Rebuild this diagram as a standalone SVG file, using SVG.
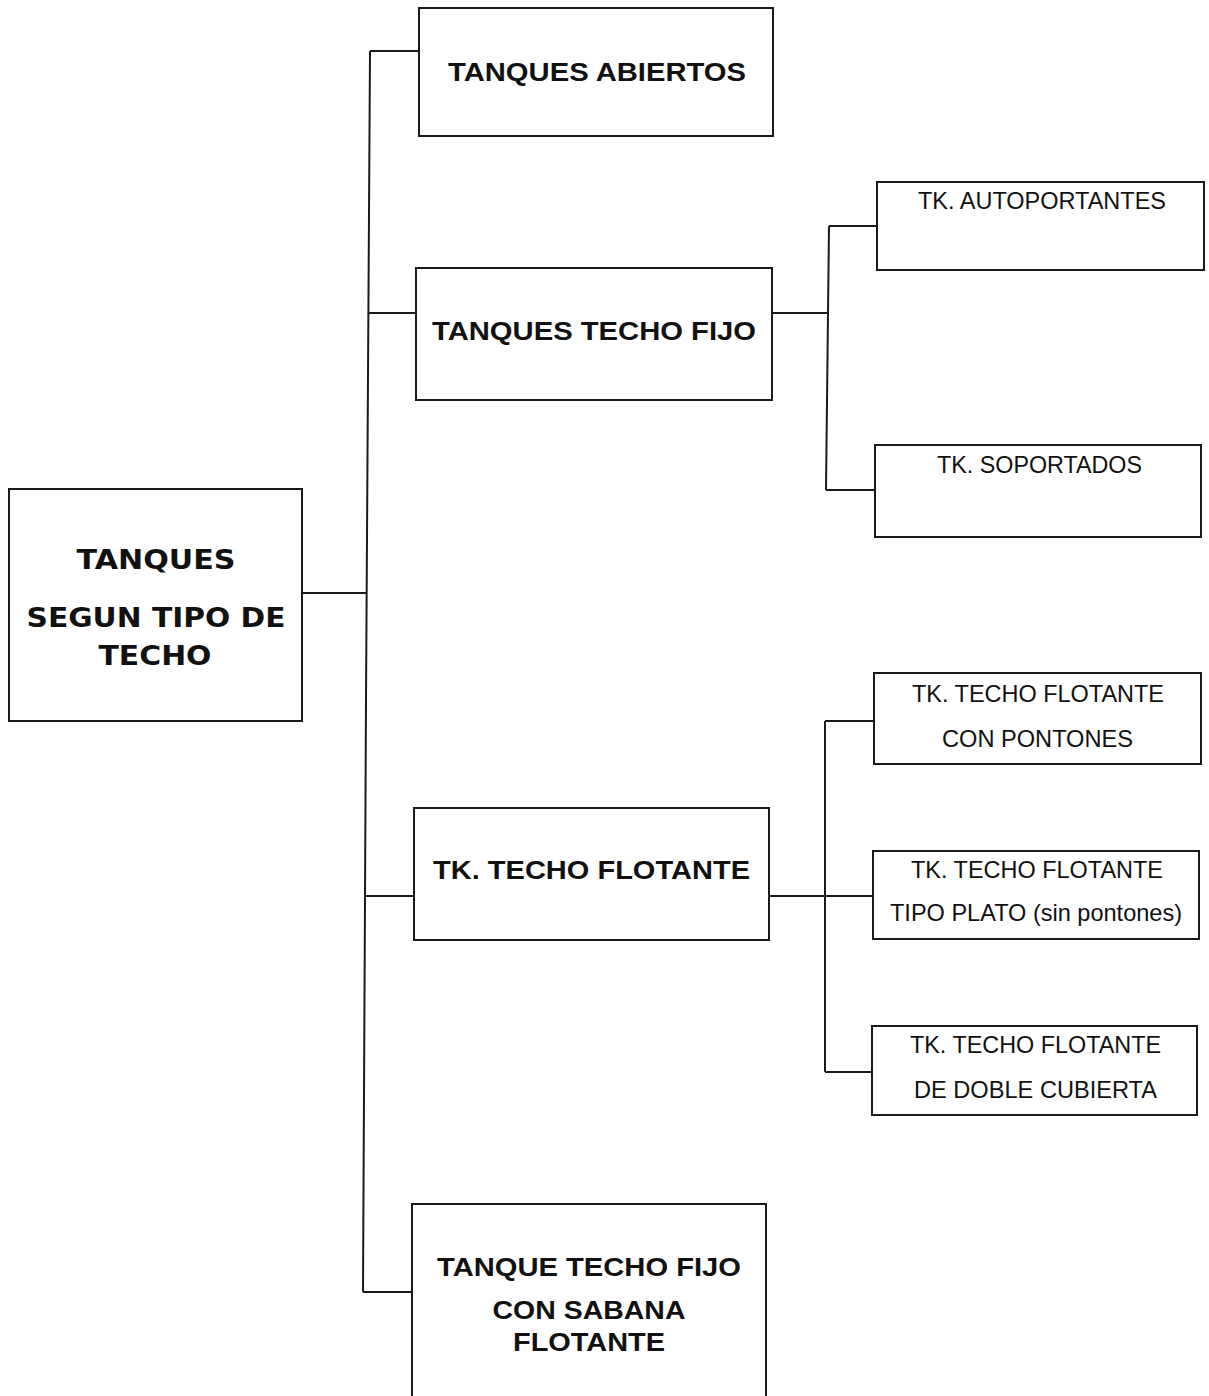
<svg xmlns="http://www.w3.org/2000/svg" width="1209" height="1396" viewBox="0 0 1209 1396">
<style>
.box{fill:#fff;stroke:#1a1a1a;stroke-width:2}
.ln{fill:none;stroke:#1a1a1a;stroke-width:2}
.h{font-family:"Liberation Sans",Arial,sans-serif;font-weight:bold;font-size:25px;fill:#111}
.r{font-family:"DejaVu Sans",sans-serif;font-weight:bold;font-size:26px;fill:#111}
.s{font-family:"Liberation Sans",Arial,sans-serif;font-size:24px;fill:#111}
</style>
<rect width="1209" height="1396" fill="#fff"/>
<g id="connectors">
<path class="ln" d="M370,51 L366,700 L363,1292"/>
<path class="ln" d="M302,593 H366"/>
<path class="ln" d="M370,51 H419"/>
<path class="ln" d="M368,313 H416"/>
<path class="ln" d="M364,896 H414"/>
<path class="ln" d="M363,1292 H412"/>
<path class="ln" d="M772,313 H828"/>
<path class="ln" d="M829,226 L826,490"/>
<path class="ln" d="M829,226 H877"/>
<path class="ln" d="M826,490 H875"/>
<path class="ln" d="M769,896 H873"/>
<path class="ln" d="M825,721 V1072"/>
<path class="ln" d="M825,721 H874"/>
<path class="ln" d="M825,1072 H872"/>
</g>
<g id="root">
<rect class="box" x="9" y="489" width="293" height="232"/>
<text class="r" x="156" y="569" text-anchor="middle" textLength="159" lengthAdjust="spacingAndGlyphs">TANQUES</text>
<text class="r" x="156" y="627" text-anchor="middle" textLength="259" lengthAdjust="spacingAndGlyphs">SEGUN TIPO DE</text>
<text class="r" x="155" y="665" text-anchor="middle" textLength="113" lengthAdjust="spacingAndGlyphs">TECHO</text>
</g>
<g id="abiertos">
<rect class="box" x="419" y="8" width="354" height="128"/>
<text class="h" x="597" y="81" text-anchor="middle" textLength="298" lengthAdjust="spacingAndGlyphs">TANQUES ABIERTOS</text>
</g>
<g id="techo-fijo">
<rect class="box" x="416" y="268" width="356" height="132"/>
<text class="h" x="594" y="340" text-anchor="middle" textLength="324" lengthAdjust="spacingAndGlyphs">TANQUES TECHO FIJO</text>
</g>
<g id="techo-flotante">
<rect class="box" x="414" y="808" width="355" height="132"/>
<text class="h" x="591.5" y="879" text-anchor="middle" textLength="317" lengthAdjust="spacingAndGlyphs">TK. TECHO FLOTANTE</text>
</g>
<g id="sabana">
<rect class="box" x="412" y="1204" width="354" height="200"/>
<text class="h" x="589" y="1276" text-anchor="middle" textLength="304" lengthAdjust="spacingAndGlyphs">TANQUE TECHO FIJO</text>
<text class="h" x="589" y="1319" text-anchor="middle" textLength="193" lengthAdjust="spacingAndGlyphs">CON SABANA</text>
<text class="h" x="589" y="1351" text-anchor="middle" textLength="152" lengthAdjust="spacingAndGlyphs">FLOTANTE</text>
</g>
<g id="autoportantes">
<rect class="box" x="877" y="182" width="327" height="88"/>
<text class="s" x="1042" y="209" text-anchor="middle" textLength="248" lengthAdjust="spacingAndGlyphs">TK. AUTOPORTANTES</text>
</g>
<g id="soportados">
<rect class="box" x="875" y="445" width="326" height="92"/>
<text class="s" x="1039.5" y="473" text-anchor="middle" textLength="205" lengthAdjust="spacingAndGlyphs">TK. SOPORTADOS</text>
</g>
<g id="pontones">
<rect class="box" x="874" y="673" width="327" height="91"/>
<text class="s" x="1038" y="702" text-anchor="middle" textLength="252" lengthAdjust="spacingAndGlyphs">TK. TECHO FLOTANTE</text>
<text class="s" x="1037.5" y="747" text-anchor="middle" textLength="191" lengthAdjust="spacingAndGlyphs">CON PONTONES</text>
</g>
<g id="plato">
<rect class="box" x="873" y="851" width="326" height="88"/>
<text class="s" x="1037" y="878" text-anchor="middle" textLength="252" lengthAdjust="spacingAndGlyphs">TK. TECHO FLOTANTE</text>
<text class="s" x="1036" y="921" text-anchor="middle" textLength="292" lengthAdjust="spacingAndGlyphs">TIPO PLATO (sin pontones)</text>
</g>
<g id="doble">
<rect class="box" x="872" y="1026" width="325" height="89"/>
<text class="s" x="1035.5" y="1053" text-anchor="middle" textLength="251" lengthAdjust="spacingAndGlyphs">TK. TECHO FLOTANTE</text>
<text class="s" x="1035.5" y="1098" text-anchor="middle" textLength="243" lengthAdjust="spacingAndGlyphs">DE DOBLE CUBIERTA</text>
</g>
</svg>
